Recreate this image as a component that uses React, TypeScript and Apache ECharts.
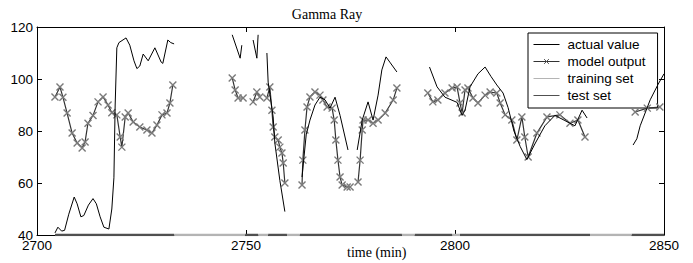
import React, { useEffect, useRef } from "react";
import * as echarts from "echarts";

// ---- data (time in min, value in API units); null = gap ----
const actualT = [
  2704.3, 2705.0, 2705.9, 2706.6, 2707.6, 2708.9, 2709.6, 2710.5, 2711.2, 2712.3, 2713.4, 2714.2, 2715.1, 2716.0, 2717.2,
  2717.9, 2718.4, 2718.7, 2719.1, 2719.6, 2721.3, 2722.2, 2723.2, 2723.9, 2724.6, 2725.4, 2726.6, 2728.2, 2729.7, 2730.1,
  2731.3, 2732.0, 2732.8, 2740,
  2746.7, 2748.6, 2749.0, 2750.5,
  2751.7, 2752.6, 2752.9, 2754,
  2755.0, 2755.3, 2756.5, 2756.9, 2758.1, 2759.3, 2761,
  2763.4, 2764.4, 2765.3, 2766.5, 2767.7, 2768.9, 2770.1, 2771.3, 2772.5, 2774.4, 2775.5,
  2776.6, 2777.8, 2779.2, 2780.4, 2781.6, 2782.5, 2783.5, 2784.4, 2786.1, 2790,
  2793.9, 2795.7, 2797.6, 2800.5, 2801.7, 2802.4, 2803.6, 2805.5, 2807.2, 2808.6, 2810.0, 2811.5, 2812.7, 2814.1, 2815.6,
  2817.2, 2819.1, 2821.5, 2823.9, 2826.3, 2828.7, 2830.4, 2831.6, 2836,
  2842.6, 2843.5, 2844.3, 2846.7, 2848.6, 2850.0,
];
const actualV = [
  40.8, 43, 41.5, 41.8, 48, 54.6, 52, 47, 47.5, 51.5, 54, 52, 47, 43, 42.3,
  50, 62, 90, 112, 114, 115.8, 113, 107, 104, 105, 109.6, 107, 112, 106.5, 106,
  115, 114, 113.5, null,
  117, 108, 113, null,
  115, 108, 117, null,
  110, 98.8, 85.4, 75.4, 61, 49, null,
  62.3, 78.5, 84.2, 90, 93, 92, 88.8, 93, 86, 72.7, null,
  72.7, 84.2, 91.2, 84.2, 93.8, 103.5, 108.5, 106.5, 102.7, null,
  104.6, 97, 93, 91, 86, 88, 97, 102, 104.6, 101, 97.7, 94.6, 89, 80, 74,
  69, 75, 82, 86, 84, 82, 88, 85, null,
  74.6, 77, 82, 92, 98, 102,
];

const modelT = [
  2704.3, 2705.5, 2706.2, 2707.2, 2708.4, 2709.6, 2710.8, 2711.5, 2712.2, 2713.4, 2714.6, 2715.8, 2717.0, 2717.9,
  2719.1, 2719.9, 2720.3, 2721.1, 2721.8, 2723.0, 2724.6, 2726.3, 2727.5, 2728.7, 2729.9, 2731.1, 2731.8, 2732.5, 2740,
  2746.7, 2747.4, 2748.1, 2749.3, 2750.5,
  2751.7, 2752.6, 2753.3, 2754,
  2755.0, 2755.7, 2756.2, 2756.5, 2756.9, 2757.7, 2758.1, 2758.6, 2758.9, 2759.3, 2761,
  2763.4, 2763.6, 2764.1, 2764.6, 2765.3, 2766.5, 2767.7, 2768.4, 2769.4, 2770.6, 2771.1, 2771.5, 2772.0, 2772.5,
  2773.0, 2774.2, 2774.9, 2775.8,
  2776.8, 2777.3, 2777.8, 2778.0, 2779.2, 2780.4, 2781.6, 2783.3, 2785.2, 2786.1, 2790,
  2793.5, 2794.7, 2795.9, 2797.6, 2799.3, 2800.5, 2801.2, 2801.7, 2802.4, 2803.1, 2804.3, 2805.5, 2807.2, 2808.4,
  2810.0, 2810.8, 2812.0, 2813.6, 2814.8, 2816.0, 2816.7, 2817.5, 2819.6, 2822.0, 2825.1, 2827.5, 2829.4, 2831.1, 2836,
  2843.1, 2846.0, 2849.0,
];
const modelV = [
  93.1, 96.9, 93, 86.9, 79.2, 75.4, 73.5, 75.8, 83, 86, 91.2, 93.1, 90, 87,
  86.2, 77.7, 73.8, 85.4, 86.9, 83.5, 81.5, 80.4, 79.2, 82.3, 86.2, 86.9, 90.8, 97.7, null,
  100.4, 95.8, 92.7, 92.7, null,
  91.2, 95, 93.1, null,
  92.7, 96.9, 88, 81.5, 77.7, 76.5, 73.8, 71.5, 67.7, 60, null,
  59.2, 68.8, 80.4, 89.2, 93.1, 95, 93.8, 91.9, 89.2, 88.8, 84.2, 76.5, 68.8, 62.3,
  59.2, 58.5, 58.5, null,
  60.4, 68.8, 80.4, 84.2, 84.2, 83, 84.2, 86.9, 91.9, 96.5, null,
  94.6, 91.2, 91.9, 94.6, 96.5, 96.9, 90.8, 86.9, 95.8, 96.5, 92.7, 90.8, 93.8, 95,
  94.6, 90.8, 86.2, 84.2, 76.5, 85.4, 77.7, 70, 79.2, 85.4, 86.2, 83, 84.2, 77.7, null,
  87.3, 88.8, 89.2,
];

// spans (start, end) marked along the 40 baseline
const trainingStart = [2732.8, 2752.9, 2759.8, 2787.3, 2799.3, 2832.3];
const trainingEnd = [2749.8, 2755.3, 2762.9, 2790.4, 2801.2, 2842.3];
const testStart = [2704.3, 2749.8, 2755.3, 2762.9, 2790.4, 2801.2, 2842.3];
const testEnd = [2732.8, 2752.9, 2759.8, 2787.3, 2799.3, 2832.3, 2850.0];
const baseline = 40;

const xTicks = [2700, 2750, 2800, 2850];
const yTicks = [40, 60, 80, 100, 120];
const seriesNames = ["actual value", "model output", "training set", "test set"];

const pairs = (t: number[], v: (number | null)[]) =>
  t.map((x, i) => [x, v[i] == null ? "-" : v[i]]);
const spans = (s: number[], e: number[]) => {
  const out: any[] = [];
  s.forEach((a, i) => {
    out.push([a, baseline], [e[i], baseline], [e[i], "-"]);
  });
  return out;
};

const xMarker = "path://M0,0L10,10M10,0L0,10";
const SANS = "Liberation Sans, Arial, sans-serif";
const SERIF = "Liberation Serif, Times New Roman, serif";

export default function App() {
  const ref = useRef<HTMLDivElement>(null);
  useEffect(() => {
    if (!ref.current) return;
    const chart = echarts.init(ref.current, undefined, { renderer: "svg" });
    const axisCommon = {
      type: "value" as const,
      axisLine: { show: true, lineStyle: { color: "#000", width: 1 } },
      axisTick: { show: true, inside: true, length: 5, lineStyle: { color: "#000" } },
      splitLine: { show: false },
    };
    const hiddenSym = { opacity: 0, color: "transparent", borderWidth: 0 };
    chart.setOption({
      animation: false,
      backgroundColor: "#fff",
      title: {
        text: "Gamma Ray",
        left: 322,
        top: 2,
        textAlign: "center",
        textStyle: { fontFamily: SERIF, fontSize: 14, fontWeight: "normal", color: "#000" },
      },
      grid: { left: 37, right: 29, top: 27, bottom: 28, containLabel: false },
      legend: {
        data: [
          { name: seriesNames[0], itemStyle: hiddenSym, lineStyle: { width: 1, color: "#000" } },
          {
            name: seriesNames[1],
            itemStyle: { color: "#555", borderColor: "#555", borderWidth: 1 },
            lineStyle: { width: 1, color: "#333" },
          },
          { name: seriesNames[2], itemStyle: hiddenSym, lineStyle: { width: 1, color: "#b4b4b4" } },
          { name: seriesNames[3], itemStyle: hiddenSym, lineStyle: { width: 1, color: "#505050" } },
        ],
        orient: "vertical",
        left: 528,
        top: 33,
        width: 129,
        padding: [4, 12, 5, 5],
        itemGap: 2,
        itemWidth: 26,
        itemHeight: 6,
        backgroundColor: "#fff",
        borderColor: "#000",
        borderWidth: 1,
        textStyle: {
          fontFamily: SANS,
          fontSize: 13.5,
          lineHeight: 15,
          color: "#000",
          padding: [0, 0, 0, 3],
        },
      },
      xAxis: [
        {
          ...axisCommon,
          min: 2700,
          max: 2850,
          interval: 50,
          axisLabel: {
            fontFamily: SANS,
            fontSize: 13.5,
            color: "#000",
            margin: 3,
            customValues: xTicks,
            formatter: (v: number) => String(v),
          },
        },
        {
          ...axisCommon,
          position: "top",
          min: 2700,
          max: 2850,
          interval: 50,
          axisLabel: { show: false },
        },
      ],
      yAxis: [
        {
          ...axisCommon,
          min: 40,
          max: 120,
          interval: 20,
          axisLabel: {
            fontFamily: SANS,
            fontSize: 13.5,
            color: "#000",
            margin: 4,
            customValues: yTicks,
            formatter: (v: number) => String(v),
          },
        },
        {
          ...axisCommon,
          position: "right",
          min: 40,
          max: 120,
          interval: 20,
          axisLabel: { show: false },
        },
      ],
      series: [
        {
          name: "training set",
          type: "line",
          data: spans(trainingStart, trainingEnd),
          showSymbol: false,
          symbol: "none",
          lineStyle: { color: "#b4b4b4", width: 2.5 },
          itemStyle: { color: "#b4b4b4" },
          z: 3,
        },
        {
          name: "test set",
          type: "line",
          data: spans(testStart, testEnd),
          showSymbol: false,
          symbol: "none",
          lineStyle: { color: "#505050", width: 2.5 },
          itemStyle: { color: "#505050" },
          z: 3,
        },
        {
          name: "model output",
          type: "line",
          data: pairs(modelT, modelV),
          symbol: xMarker,
          symbolSize: 7,
          showAllSymbol: true,
          lineStyle: { color: "#333", width: 1.2 },
          itemStyle: { color: "#7a7a7a", borderColor: "#7a7a7a", borderWidth: 1.4 },
          z: 4,
        },
        {
          name: "actual value",
          type: "line",
          data: pairs(actualT, actualV),
          symbol: "none",
          lineStyle: { color: "#000", width: 1 },
          itemStyle: { color: "#000" },
          z: 5,
        },
      ],
      graphic: [
        {
          type: "text",
          left: 347,
          top: 245,
          style: {
            text: "time (min)",
            fontFamily: SERIF,
            fontSize: 14,
            fill: "#000",
            textAlign: "center",
          },
        },
      ],
    });
    return () => chart.dispose();
  }, []);
  return (
    <div
      ref={ref}
      style={{ position: "fixed", left: 0, top: 0, width: 693, height: 263, background: "#fff" }}
    />
  );
}
